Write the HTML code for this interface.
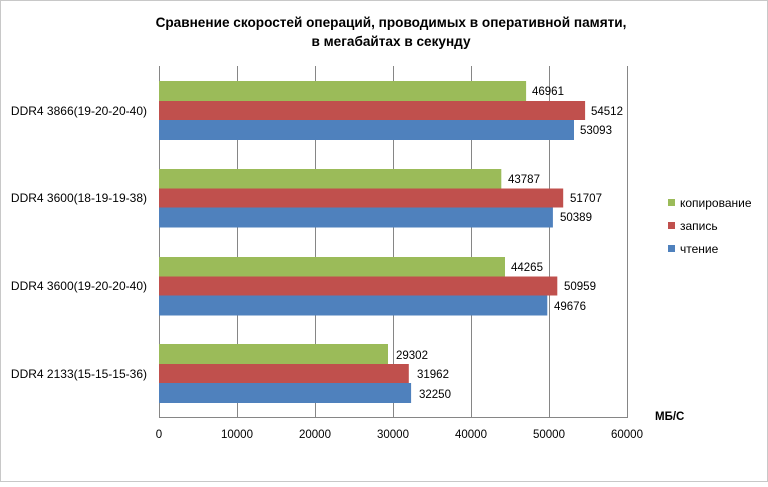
<!DOCTYPE html>
<html><head><meta charset="utf-8"><style>
body{margin:0;background:#fff;}
svg text{font-family:"Liberation Sans","DejaVu Sans",sans-serif;}
</style></head><body>
<svg width="768" height="482" xmlns="http://www.w3.org/2000/svg">
<rect x="0.5" y="0.5" width="767" height="481" fill="#fff" stroke="#c8c8c8"/>
<text x="391" y="27" font-size="13.6" font-weight="bold" text-anchor="middle" fill="#000">Сравнение скоростей операций, проводимых в оперативной памяти,</text>
<text x="391" y="46" font-size="13.6" font-weight="bold" text-anchor="middle" fill="#000">в мегабайтах в секунду</text>
<g stroke="#868686" stroke-width="1">
<line x1="159.5" y1="66" x2="159.5" y2="417"/>
<line x1="237.5" y1="66" x2="237.5" y2="417"/>
<line x1="315.5" y1="66" x2="315.5" y2="417"/>
<line x1="393.5" y1="66" x2="393.5" y2="417"/>
<line x1="471.5" y1="66" x2="471.5" y2="417"/>
<line x1="549.5" y1="66" x2="549.5" y2="417"/>
<line x1="627.5" y1="66" x2="627.5" y2="417"/>
<line x1="159" y1="417.5" x2="628" y2="417.5"/>
</g>
<g font-size="11.5" fill="#000">
<rect x="159" y="81" width="367.1" height="20" fill="#9bbb59"/>
<rect x="159" y="101" width="426.1" height="19" fill="#c0504d"/>
<rect x="159" y="120" width="415" height="20" fill="#4f81bd"/>
<text x="532" y="95">46961</text><text x="591" y="115">54512</text><text x="580" y="134">53093</text>
<rect x="159" y="169" width="342.3" height="19.5" fill="#9bbb59"/>
<rect x="159" y="188.5" width="404.2" height="19" fill="#c0504d"/>
<rect x="159" y="207.5" width="393.9" height="20" fill="#4f81bd"/>
<text x="508" y="183">43787</text><text x="570" y="202">51707</text><text x="560" y="221">50389</text>
<rect x="159" y="257" width="346" height="19.5" fill="#9bbb59"/>
<rect x="159" y="276.5" width="398.3" height="19" fill="#c0504d"/>
<rect x="159" y="295.5" width="388.3" height="20" fill="#4f81bd"/>
<text x="511" y="271">44265</text><text x="564" y="290">50959</text><text x="554" y="310">49676</text>
<rect x="159" y="344" width="229" height="20" fill="#9bbb59"/>
<rect x="159" y="364" width="249.8" height="19" fill="#c0504d"/>
<rect x="159" y="383" width="252.1" height="20" fill="#4f81bd"/>
<text x="396" y="359">29302</text><text x="417" y="378">31962</text><text x="419" y="398">32250</text>
</g>
<g font-size="12" fill="#000" text-anchor="end">
<text x="147" y="115">DDR4 3866(19-20-20-40)</text>
<text x="147" y="202">DDR4 3600(18-19-19-38)</text>
<text x="147" y="290">DDR4 3600(19-20-20-40)</text>
<text x="147" y="378">DDR4 2133(15-15-15-36)</text>
</g>
<g font-size="11.5" fill="#000" text-anchor="middle">
<text x="159" y="438">0</text><text x="237" y="438">10000</text><text x="315" y="438">20000</text>
<text x="393" y="438">30000</text><text x="471" y="438">40000</text><text x="549" y="438">50000</text>
<text x="627" y="438">60000</text>
</g>
<text x="655" y="420" font-size="11.5" font-weight="bold" fill="#000">МБ/С</text>
<g font-size="12" fill="#000">
<rect x="668" y="199" width="7" height="7" fill="#9bbb59"/><text x="680" y="207">копирование</text>
<rect x="668" y="222" width="7" height="7" fill="#c0504d"/><text x="680" y="230">запись</text>
<rect x="668" y="245" width="7" height="7" fill="#4f81bd"/><text x="680" y="253">чтение</text>
</g>
</svg>
</body></html>
